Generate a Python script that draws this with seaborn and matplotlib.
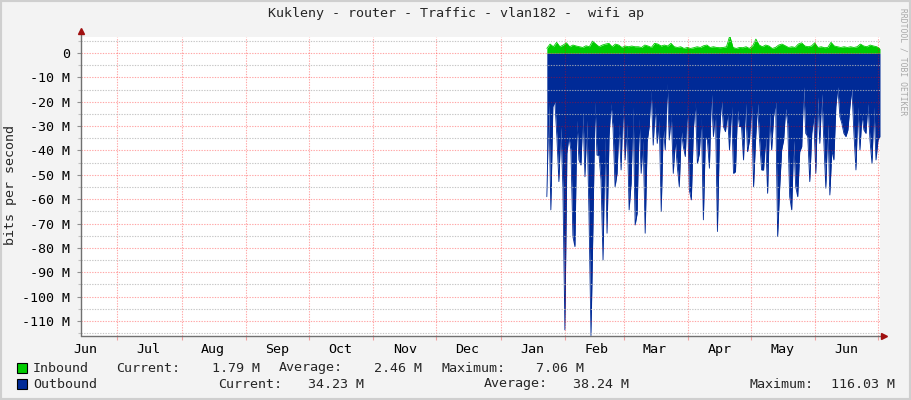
import numpy as np
import pandas as pd
import seaborn as sns
import matplotlib.pyplot as plt
import matplotlib.dates as mdates
from matplotlib.patches import Rectangle
from matplotlib.ticker import FixedLocator, NullFormatter

# --- data (values in Mbit/s) ---
title = "Kukleny - router - Traffic - vlan182 -  wifi ap"

inbound_mbps = [
    1.9, 3.7, 2.6, 4.4, 2.6, 3.3, 4.2, 2.6, 3.3, 2.9, 2.6, 2.3, 3.0, 2.6, 4.9, 3.7,
    2.6, 3.3, 3.7, 4.0, 2.6, 3.7, 3.3, 2.3, 2.9, 2.6, 2.9, 2.6, 2.6, 2.3, 3.3, 2.9,
    2.3, 4.0, 3.7, 2.9, 3.3, 2.9, 4.0, 2.6, 2.3, 2.6, 1.9, 2.3, 1.9, 2.2, 2.6, 2.3,
    3.0, 3.3, 2.3, 2.6, 2.3, 2.2, 2.3, 2.6, 7.06, 2.3, 1.9, 2.3, 2.2, 2.6, 1.9, 2.9,
    5.75, 3.3, 2.6, 3.3, 2.9, 1.9, 2.3, 3.3, 3.7, 3.0, 2.3, 2.6, 2.3, 3.7, 4.2, 2.9,
    2.6, 2.9, 4.2, 2.3, 2.6, 2.2, 2.3, 4.4, 2.9, 2.6, 2.3, 2.6, 2.3, 2.6, 2.3, 2.6,
    3.7, 2.9, 2.6, 3.3, 2.9, 2.6, 1.79,
]

outbound_mbps = [
    59.0, 20.7, 64.4, 22.0, 20.0, 34.3, 52.8, 30.2, 54.9, 113.7, 41.2, 34.3, 39.8,
    75.4, 79.5, 27.5, 43.9, 46.0, 24.1, 50.8, 27.5, 65.8, 116.03, 70.6, 20.0, 41.9,
    41.9, 52.1, 85.0, 34.3, 74.0, 34.3, 20.7, 30.9, 54.9, 49.4, 28.9, 48.0, 20.7,
    43.9, 28.9, 64.4, 53.5, 22.0, 70.6, 65.8, 26.8, 49.4, 35.7, 74.0, 36.4,
    30.2, 15.2, 37.8, 22.0, 37.1, 27.5, 65.1, 30.2, 39.8, 12.4, 35.7, 24.8, 49.4,
    35.7, 46.6, 54.9, 31.6, 38.4, 42.5, 20.7, 56.2, 60.3, 31.6, 20.0, 45.3, 41.2,
    26.1, 68.5, 34.3, 35.7, 47.3, 15.9, 34.3, 23.4, 73.3, 34.3, 19.3, 30.2, 32.3,
    24.8, 39.8, 21.3, 49.4, 48.7, 23.4, 30.2, 30.2, 43.9, 20.7, 40.5, 35.7, 21.3,
    54.9, 35.7, 20.7, 35.7, 48.0, 48.0, 34.3,
    57.6, 24.8, 39.8, 26.1, 20.0, 75.4, 55.5, 39.8, 35.7, 22.7, 28.9, 59.0, 64.4,
    35.7, 54.9, 59.0, 40.5, 38.4, 13.8, 33.0, 34.3, 52.8, 33.0, 26.1, 49.4, 17.9,
    37.1, 16.6, 35.7, 55.5, 28.9, 58.3, 39.8, 43.9, 22.0, 13.8, 26.1, 28.9, 33.0,
    34.3, 31.6, 22.0, 14.5, 33.0, 48.0, 22.0, 39.8, 25.4, 31.6, 33.0, 20.7, 35.7,
    45.3, 22.0, 43.9, 35.7, 34.23,
]

data_start, data_end = "2017-01-23 04:00", "2017-07-02 00:00"
view_start, view_end = "2016-06-13 17:00", "2017-07-02 00:00"

y_ticks = list(range(0, -111, -10))
y_labels = ["0"] + [f"-{abs(v)} M" for v in y_ticks[1:]]
y_minor = list(range(5, -116, -10))

legend_rows = [
    ("Inbound", "#00CC00", 368,
     [("Current:", 116, "1.79 M", 260), ("Average:", 279, "2.46 M", 422),
      ("Maximum:", 441, "7.06 M", 584)]),
    ("Outbound", "#002A97", 384,
     [("Current:", 218, "34.23 M", 364), ("Average:", 484, "38.24 M", 629),
      ("Maximum:", 750, "116.03 M", 895)]),
]

GREEN = "#00CC00"
BLUE = "#002A97"
W, H = 911, 400


def fx(x):
    return x / W


def fy(y):
    return 1 - y / H


sns.set_theme(style="white", rc={"axes.facecolor": "white", "figure.facecolor": "#F3F3F3"})
plt.rcParams["font.family"] = ["DejaVu Sans Mono", "DejaVu Sans"]
FS = 9.6

df_in = pd.DataFrame({"time": pd.date_range(data_start, data_end, periods=len(inbound_mbps)),
                      "bps": inbound_mbps})
df_out = pd.DataFrame({"time": pd.date_range(data_start, data_end, periods=len(outbound_mbps)),
                       "bps": -np.array(outbound_mbps)})

fig = plt.figure(figsize=(W / 100, H / 100), dpi=100)
ax = fig.add_axes([fx(81), fy(336), (880 - 81) / W, (336 - 37) / H])

# areas
ax.fill_between(df_out["time"], df_out["bps"], 0, color=BLUE, lw=0)
ax.fill_between(df_in["time"], df_in["bps"], 0, color=GREEN, lw=0)
sns.lineplot(data=df_out, x="time", y="bps", color=BLUE, lw=0.6, ax=ax)
sns.lineplot(data=df_in, x="time", y="bps", color=GREEN, lw=0.6, ax=ax)

ax.set_xlim(pd.Timestamp(view_start), pd.Timestamp(view_end))
ax.set_ylim(-116.2, 6.6)
ax.set_xlabel("")
ax.set_ylabel("")

# x axis: red lines at month starts, labels mid-month
ax.xaxis.set_major_locator(mdates.MonthLocator())
ax.xaxis.set_major_formatter(NullFormatter())
ax.xaxis.set_minor_locator(mdates.MonthLocator(bymonthday=16))
ax.xaxis.set_minor_formatter(mdates.DateFormatter("%b"))
ax.tick_params(axis="x", which="major", length=3, width=0.8, color="#F0A0A0", bottom=True)
ax.tick_params(axis="x", which="minor", length=0, pad=5, labelsize=FS, labelcolor="black", bottom=True)

ax.yaxis.set_major_locator(FixedLocator(y_ticks))
ax.set_yticklabels(y_labels)
ax.yaxis.set_minor_locator(FixedLocator(y_minor))
ax.tick_params(axis="y", which="major", length=3, width=0.8, color="#909090", pad=5,
               labelsize=FS, labelcolor="black", left=True)
ax.tick_params(axis="y", which="minor", length=2, width=0.8, color="#C0C0C0", left=True)

dots = (0, (1.2, 1.2))
ax.grid(True, which="major", axis="both", color="#FF0000", alpha=0.35, ls=dots, lw=0.8)
ax.grid(True, which="minor", axis="y", color="#B8B8B8", alpha=0.8, ls=dots, lw=0.8)
ax.set_axisbelow(False)

for s in ax.spines.values():
    s.set_visible(False)
ax.plot([0, 0], [0, 1.02], transform=ax.transAxes, color="#707070", lw=1, clip_on=False, zorder=5)
ax.plot([0, 1.005], [0, 0], transform=ax.transAxes, color="#707070", lw=1, clip_on=False, zorder=5)
ax.plot([0], [1.02], marker="^", ms=5, color="#A01010", transform=ax.transAxes, clip_on=False, zorder=6)
ax.plot([1.005], [0], marker=">", ms=5, color="#A01010", transform=ax.transAxes, clip_on=False, zorder=6)

# texts
fig.text(0.5, fy(14), title, ha="center", va="center", fontsize=FS)
fig.text(fx(11), fy(185), "bits per second", rotation=90, ha="center", va="center", fontsize=FS)
fig.text(fx(903), fy(62), "RRDTOOL / TOBI OETIKER", rotation=270, ha="center", va="center",
         fontsize=5.8, color="#A8A8A8")

for name, colour, yrow, cols in legend_rows:
    fig.patches.append(Rectangle((fx(17), fy(yrow + 5)), 10 / W, 10 / H, transform=fig.transFigure,
                                 facecolor=colour, edgecolor="black", lw=0.8))
    fig.text(fx(33), fy(yrow), name, ha="left", va="center", fontsize=FS)
    for label, lx, value, vx in cols:
        fig.text(fx(lx), fy(yrow), label, ha="left", va="center", fontsize=FS)
        fig.text(fx(vx), fy(yrow), value, ha="right", va="center", fontsize=FS)

fig.patches.append(Rectangle((0, 0), 1, 1, transform=fig.transFigure, fill=False,
                             edgecolor="#CFCFCF", lw=3))

fig.savefig("out.png", dpi=100)
